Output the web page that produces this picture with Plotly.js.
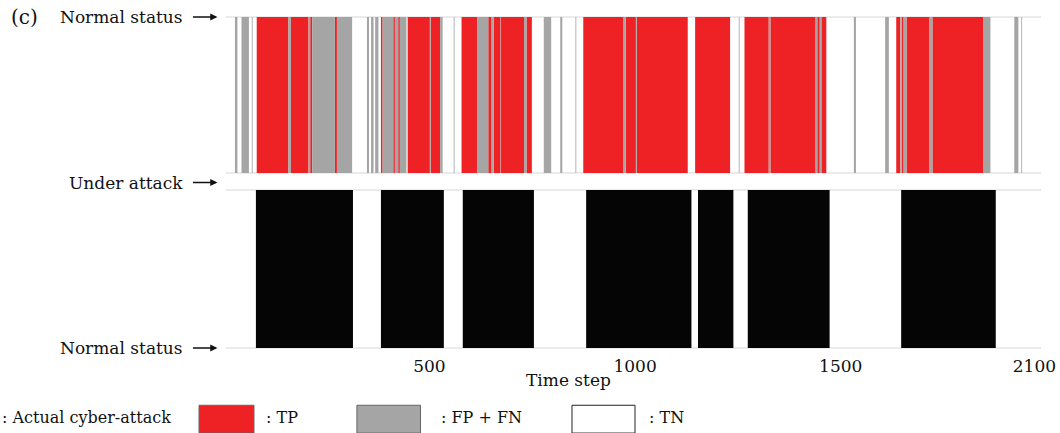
<!DOCTYPE html>
<html>
<head>
<meta charset="utf-8">
<script src="https://cdn.plot.ly/plotly-3.0.1.min.js"></script>
<style>
html,body{margin:0;padding:0;background:#fff;}
#chart{width:1060px;height:433px;}
</style>
</head>
<body>
<div id="chart"></div>
<script>
// ---- Data (time steps) ----
// Predicted outcome segments (top panel)
const tpStart   = [80, 163, 210, 270, 382, 412, 424, 447, 503, 578, 643, 656, 674, 736, 874, 977, 1004, 1146, 1266, 1329, 1443, 1453, 1635, 1648, 1660, 1723];
const tpEnd     = [157, 206, 215, 275, 386, 416, 428, 501, 526, 616, 651, 673, 730, 749, 972, 1002, 1128, 1231, 1325, 1439, 1449, 1465, 1645, 1653, 1716, 1846];
const fpfnStart = [27, 43, 68, 157, 206, 215, 275, 348, 358, 368, 386, 416, 428, 501, 526, 559, 616, 651, 673, 730, 778, 818, 855, 972, 1002, 1252, 1325, 1439, 1449, 1532, 1608, 1645, 1653, 1716, 1846, 1922, 1939];
const fpfnEnd   = [33, 61, 70, 163, 210, 270, 312, 353, 364, 376, 412, 424, 444, 503, 532, 561, 643, 656, 674, 736, 796, 823, 857, 977, 1004, 1254, 1329, 1443, 1453, 1537, 1617, 1648, 1660, 1723, 1864, 1932, 1941];
// Actual cyber-attack intervals (bottom panel)
const attackStart = [78, 382, 581, 881, 1153, 1274, 1647];
const attackEnd   = [314, 535, 754, 1137, 1239, 1473, 1877];
// Axis ticks
const xTickVals  = [500, 1000, 1500, 1971];
const xTickText  = ["500", "1000", "1500", "2100"];
const xRange     = [15, 1987];

const C_TP = "#EE2224", C_FP = "#A5A5A5", C_ATK = "#050505";
const FONT = "DejaVu Serif";

function segTrace(starts, ends, color, yaxis, name) {
  return {
    type: "bar",
    name: name,
    x: starts.map((s, i) => (s + ends[i]) / 2),
    width: starts.map((s, i) => ends[i] - s),
    y: starts.map(() => 1),
    base: starts.map(() => 0),
    marker: {color: color, line: {width: 0}},
    xaxis: "x",
    yaxis: yaxis,
    hoverinfo: "skip",
    showlegend: false
  };
}

const traces = [
  segTrace(tpStart, tpEnd, C_TP, "y2", "TP"),
  segTrace(fpfnStart, fpfnEnd, C_FP, "y2", "FP + FN"),
  segTrace(attackStart, attackEnd, C_ATK, "y", "Actual cyber-attack")
];

const gridC = "#e4e4e4";
function gridLine(yref, yv) {
  return {type: "line", xref: "paper", yref: yref, x0: -0.005, x1: 1, y0: yv, y1: yv,
          line: {color: gridC, width: 1.5}, layer: "below"};
}
function arrow(yv) {
  return {text: "", xref: "paper", yref: "paper", x: -0.0155, y: yv, ax: -26, ay: 0,
          axref: "pixel", ayref: "pixel", showarrow: true, arrowhead: 2, arrowsize: 1.1,
          arrowwidth: 1.3, arrowcolor: "#111", standoff: 0, startstandoff: 0};
}
function label(txt, yv) {
  return {text: txt, xref: "paper", yref: "paper", x: -0.0555, y: yv, xanchor: "right",
          yanchor: "middle", showarrow: false, font: {family: FONT, size: 17, color: "#111"}};
}
const legY = -0.211;
function legText(txt, xv) {
  return {text: txt, xref: "paper", yref: "paper", x: xv, y: legY, xanchor: "left",
          yanchor: "middle", showarrow: false, font: {family: FONT, size: 16, color: "#111"}};
}

const layout = {
  width: 1060, height: 433,
  margin: {l: 230, r: 19, t: 17, b: 85},
  paper_bgcolor: "#fff", plot_bgcolor: "#fff",
  barmode: "overlay",
  showlegend: false,
  font: {family: FONT, size: 17, color: "#111"},
  xaxis: {
    range: xRange, tickvals: xTickVals, ticktext: xTickText,
    showgrid: false, zeroline: false, showline: false, ticks: "",
    ticklabelstandoff: 6, ticklabeloverflow: "allow",
    tickfont: {family: FONT, size: 17, color: "#111"},
    anchor: "y", fixedrange: true
  },
  yaxis: {
    domain: [0, 0.4773], range: [0, 1],
    showticklabels: false, showgrid: false,
    zeroline: false, showline: false, ticks: "", anchor: "x"
  },
  yaxis2: {
    domain: [0.5287, 1], range: [0, 1],
    showticklabels: false, showgrid: false,
    zeroline: false, showline: false, ticks: "", anchor: "x"
  },
  annotations: [
    {text: "(c)", xref: "paper", yref: "paper", x: -0.2725, y: 1.0, xanchor: "left", yanchor: "middle", showarrow: false, font: {family: FONT, size: 20, color: "#111"}},
    label("Normal status", 1.0), arrow(1.0),
    label("Under attack", 0.5), arrow(0.5),
    label("Normal status", 0.0), arrow(0.0),
    {text: "Time step", xref: "paper", yref: "paper", x: 0.418, y: -0.097, xanchor: "center", yanchor: "middle", showarrow: false, font: {family: FONT, size: 17, color: "#111"}},
    legText(": Actual cyber-attack", -0.2836),
    legText(": TP", 0.0420),
    legText(": FP + FN", 0.2580),
    legText(": TN", 0.5145)
  ],
  shapes: [
    gridLine("y2 domain", 1), gridLine("y2 domain", 0),
    gridLine("y domain", 1), gridLine("y domain", 0),
    {type: "rect", xref: "paper", yref: "paper", x0: -0.0382, x1: 0.0296, y0: -0.257, y1: -0.173, fillcolor: C_TP, line: {color: "#666", width: 1}},
    {type: "rect", xref: "paper", yref: "paper", x0: 0.1565, x1: 0.2349, y0: -0.257, y1: -0.173, fillcolor: C_FP, line: {color: "#666", width: 1}},
    {type: "rect", xref: "paper", yref: "paper", x0: 0.4217, x1: 0.4994, y0: -0.257, y1: -0.173, fillcolor: "#fff", line: {color: "#222", width: 1}}
  ]
};

Plotly.newPlot("chart", traces, layout, {staticPlot: true, displayModeBar: false});
</script>
</body>
</html>
